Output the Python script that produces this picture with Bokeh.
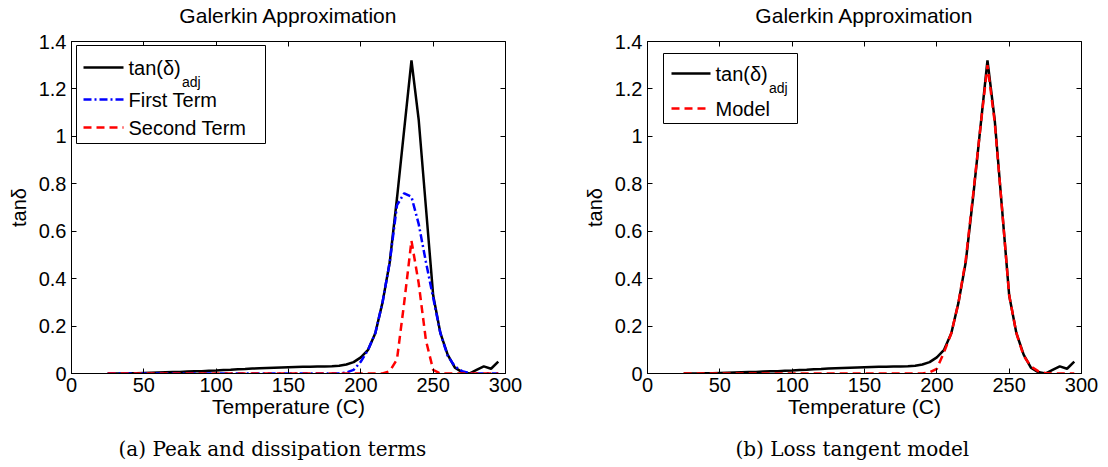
from bokeh.plotting import figure
from bokeh.models import (Range1d, FixedTicker, LinearAxis, Label, BoxAnnotation,
                          Arrow, CustomJSTickFormatter, Title)
from bokeh.layouts import row
from bokeh.embed import file_html
from bokeh.resources import INLINE

# ---------------- data ----------------
temperature = [25, 30, 35, 40, 45, 50, 55, 60, 65, 70, 75, 80, 85, 90, 95,
               100, 105, 110, 115, 120, 125, 130, 135, 140, 145, 150, 155, 160,
               165, 170, 175, 180, 185, 190, 195, 200, 205, 210, 215, 220, 225,
               230, 235, 240, 245, 250, 255, 260, 265, 270, 275, 280, 285, 290, 295]

tan_adj = [0.000, 0.000, 0.000, 0.001, 0.001, 0.002, 0.003, 0.004, 0.005, 0.006,
           0.006, 0.008, 0.009, 0.010, 0.012, 0.013, 0.015, 0.016, 0.018, 0.019,
           0.021, 0.022, 0.023, 0.024, 0.025, 0.026, 0.027, 0.028, 0.028, 0.029,
           0.030, 0.031, 0.033, 0.038, 0.048, 0.068, 0.100, 0.170, 0.300, 0.470,
           0.740, 1.030, 1.320, 1.070, 0.700, 0.330, 0.170, 0.080, 0.025, 0.006,
           0.000, 0.015, 0.030, 0.020, 0.050]

first_term = [0.0] * 32 + [0.000, 0.004, 0.015, 0.050, 0.100, 0.170, 0.300, 0.470,
                           0.710, 0.760, 0.745, 0.630, 0.470, 0.320, 0.170, 0.075,
                           0.030, 0.010, 0.002, 0.000, 0.000, 0.000, 0.000]

second_term = [0.0] * 39 + [0.010, 0.060, 0.300, 0.560, 0.380, 0.140, 0.015,
                            0.000, 0.000, 0.000, 0.000, 0.000, 0.000, 0.000,
                            0.000, 0.000, 0.000]

model = [0.0] * 33 + [0.000, 0.005, 0.020, 0.090, 0.170, 0.300, 0.480, 0.750,
                      1.030, 1.300, 1.060, 0.700, 0.330, 0.170, 0.075, 0.030,
                      0.010, 0.002, 0.000, 0.000, 0.000, 0.000]

x_ticks = [0, 50, 100, 150, 200, 250, 300]
y_ticks = [0, 0.2, 0.4, 0.6, 0.8, 1, 1.2, 1.4]

title_text = "Galerkin Approximation"
x_label = "Temperature (C)"
y_label = "tan\u03b4"
captions = ["(a) Peak and dissipation terms", "(b) Loss tangent model"]

FONT = "Liberation Sans"
SERIF = "DejaVu Serif"


def tick_axis(ticks):
    """Axis that only draws inward ticks (box style), no labels."""
    return LinearAxis(ticker=FixedTicker(ticks=ticks), major_label_text_font_size="1px",
                      major_label_text_color=None, major_tick_in=5, major_tick_out=0,
                      major_tick_line_color="black", minor_tick_line_color=None,
                      axis_line_color=None, major_label_standoff=0)


def spacer_axis(ticks, gap):
    """Invisible axis that only reserves `gap` pixels of space."""
    return LinearAxis(ticker=FixedTicker(ticks=ticks), major_label_text_font_size="1px",
                      major_label_text_color=None, major_tick_in=0, major_tick_out=gap,
                      major_tick_line_color=None, minor_tick_line_color=None,
                      axis_line_color=None, major_label_standoff=0)


def make_fig(width, border_right, caption, caption_offset):
    p = figure(width=width, height=467, output_backend="svg", toolbar_location=None,
               x_range=Range1d(0, 300), y_range=Range1d(0, 1.4),
               min_border_left=71, min_border_right=border_right,
               min_border_top=41, min_border_bottom=94,
               x_axis_label=x_label, y_axis_label=y_label)
    p.background_fill_color = "white"
    p.border_fill_color = "white"
    p.outline_line_color = "black"
    p.outline_line_width = 1
    p.xgrid.grid_line_color = None
    p.ygrid.grid_line_color = None
    p.xaxis.ticker = FixedTicker(ticks=x_ticks)
    p.yaxis.ticker = FixedTicker(ticks=y_ticks)
    p.yaxis.formatter = CustomJSTickFormatter(code="return String(Number(tick.toFixed(1)));")
    for ax in p.xaxis + p.yaxis:
        ax.major_tick_in = 5
        ax.major_tick_out = 0
        ax.minor_tick_line_color = None
        ax.axis_line_color = "black"
        ax.major_tick_line_color = "black"
        ax.major_label_text_font = FONT
        ax.major_label_text_font_size = "20px"
        ax.major_label_text_color = "black"
        ax.axis_label_text_font = FONT
        ax.axis_label_text_font_style = "normal"
        ax.axis_label_text_color = "black"
    p.xaxis.axis_label_text_font_size = "21px"
    p.yaxis.axis_label_text_font_size = "20px"
    p.xaxis.major_label_standoff = 4
    p.xaxis.axis_label_standoff = 0
    p.yaxis.major_label_standoff = 5
    p.yaxis.axis_label_standoff = 6
    # ticks on top and right, no labels
    p.add_layout(tick_axis(x_ticks), "above")
    p.add_layout(spacer_axis(x_ticks, 14), "above")
    p.add_layout(tick_axis(y_ticks), "right")
    # title
    p.title.text = title_text
    p.title.align = "center"
    p.title.text_font = FONT
    p.title.text_font_size = "21px"
    p.title.text_font_style = "normal"
    p.title.text_color = "black"
    p.title.standoff = 2
    # spacer + caption below
    p.add_layout(spacer_axis(x_ticks, 10), "below")
    p.add_layout(Title(text=caption, align="left", offset=caption_offset,
                       text_font=SERIF, text_font_size="20px", text_font_style="normal",
                       text_color="black", standoff=8), "below")
    return p


def legend(p, box, entries):
    left, right, top, bottom = box
    p.add_layout(BoxAnnotation(left=left, right=right, top=top, bottom=bottom,
                               left_units="screen", right_units="screen",
                               top_units="screen", bottom_units="screen",
                               fill_color="white", fill_alpha=1.0,
                               line_color="black", line_width=1, line_alpha=1.0))
    for (x0, x1, y, color, dash, width, text, sub) in entries:
        p.add_layout(Arrow(x_start=x0, y_start=y, x_end=x1, y_end=y,
                           start_units="screen", end_units="screen", start=None, end=None,
                           line_color=color, line_width=width, line_dash=dash))
        p.add_layout(Label(x=x1 + 5, y=y, x_units="screen", y_units="screen", text=text,
                           text_font=FONT, text_font_size="20px", text_baseline="middle",
                           text_align="left", text_color="black"))
        if sub:
            p.add_layout(Label(x=x1 + 58.5, y=y - 14, x_units="screen", y_units="screen",
                               text=sub, text_font=FONT, text_font_size="14px",
                               text_baseline="alphabetic", text_align="left",
                               text_color="black"))


# ---------------- left: peak and dissipation terms ----------------
p1 = make_fig(576, 71, captions[0], 47)
p1.line(temperature, tan_adj, line_color="black", line_width=2.5)
p1.line(temperature, first_term, line_color="#0000ff", line_width=2.5, line_dash="8 3 2 3")
p1.line(temperature, second_term, line_color="#ff0000", line_width=2.5, line_dash="8 5")
legend(p1, (5, 194, 328, 230), [
    (12, 52, 306, "black", "solid", 2.5, "tan(\u03b4)", "adj"),
    (12, 52, 274, "#0000ff", "8 3 2 3", 2.5, "First Term", None),
    (12, 52, 246, "#ff0000", "8 5", 2.5, "Second Term", None),
])

# ---------------- right: loss tangent model ----------------
p2 = make_fig(532, 27, captions[1], 88)
p2.line(temperature, tan_adj, line_color="black", line_width=2.5)
p2.line(temperature, model, line_color="#ff0000", line_width=2.5, line_dash="8 5")
legend(p2, (16, 150, 320, 250), [
    (24, 63, 300, "black", "solid", 2.5, "tan(\u03b4)", "adj"),
    (24, 63, 265, "#ff0000", "8 5", 2.5, "Model", None),
])

layout = row(p1, p2)
open("out.html", "w").write(file_html(layout, INLINE))
